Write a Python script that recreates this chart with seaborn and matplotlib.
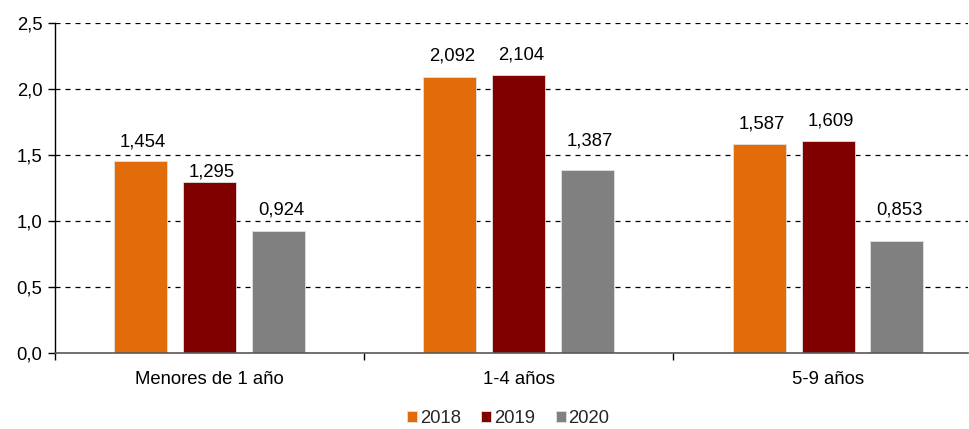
import matplotlib
matplotlib.use("Agg")
import matplotlib.pyplot as plt
import seaborn as sns
import pandas as pd

categories = ["Menores de 1 año", "1-4 años", "5-9 años"]
years = ["2018", "2019", "2020"]
values_2018 = [1.454, 2.092, 1.587]
values_2019 = [1.295, 2.104, 1.609]
values_2020 = [0.924, 1.387, 0.853]
yticks = [0.0, 0.5, 1.0, 1.5, 2.0, 2.5]
colors = ["#E36C0A", "#800000", "#808080"]

# distance (points) between each bar top and its value label, per series
label_pad = [
    [7.6, 9.0, 8.3],
    [1.2, 8.3, 8.0],
    [8.8, 14.8, 16.2],
]

rows = []
for year, vals in zip(years, [values_2018, values_2019, values_2020]):
    for cat, v in zip(categories, vals):
        rows.append({"grupo": cat, "año": year, "valor": v})
df = pd.DataFrame(rows)

sns.set_theme(style="white")
plt.rcParams["font.family"] = ["Liberation Sans", "DejaVu Sans"]

fig = plt.figure(figsize=(9.7, 4.29), dpi=100)
ax = fig.add_axes([0.0567, 0.177, 0.941, 0.769])

sns.barplot(data=df, x="grupo", y="valor", hue="año", order=categories,
            hue_order=years, palette=colors, saturation=1, width=0.668, gap=0.23,
            edgecolor="#e0e0e0", linewidth=0.6, ax=ax, legend=True)

ax.set_ylim(0, 2.5)
ax.set_xlim(-0.5, 2.452)
ax.set_yticks(yticks)
ax.set_yticklabels([f"{t:.1f}".replace(".", ",") for t in yticks], fontsize=13.3)
ax.yaxis.grid(True, linestyle=(0, (4, 4)), color="black", linewidth=0.9)
ax.set_axisbelow(True)
ax.set_xlabel("")
ax.set_ylabel("")
ax.tick_params(axis="x", which="major", length=0, labelsize=13.3, pad=13, colors="black")
ax.set_xticks([-0.5, 0.5, 1.5], minor=True)
ax.tick_params(axis="x", which="minor", length=5, width=1, color="black", direction="out", bottom=True)
ax.tick_params(axis="y", length=5, width=1, color="black", direction="out", left=True, pad=4, colors="black")

for side in ["top", "right"]:
    ax.spines[side].set_visible(False)
ax.spines["left"].set_color("black")
ax.spines["left"].set_linewidth(1)
ax.spines["bottom"].set_color("#595959")
ax.spines["bottom"].set_linewidth(1.2)

for container, pads in zip(ax.containers, label_pad):
    for bar, pad in zip(container, pads):
        h = bar.get_height()
        ax.annotate(f"{h:.3f}".replace(".", ","),
                    xy=(bar.get_x() + bar.get_width() / 2 + 0.008, h),
                    xytext=(0, pad), textcoords="offset points",
                    ha="center", va="bottom", fontsize=13.3, color="black")

handles, labels = ax.get_legend_handles_labels()
ax.legend_.remove()
fig.legend(handles, labels, loc="center", bbox_to_anchor=(0.524, 0.025), ncol=3,
           frameon=False, fontsize=13.3, handlelength=0.55, handleheight=0.55,
           handletextpad=0.15, columnspacing=1.1, borderpad=0.1)

fig.savefig("out.png", dpi=100)
